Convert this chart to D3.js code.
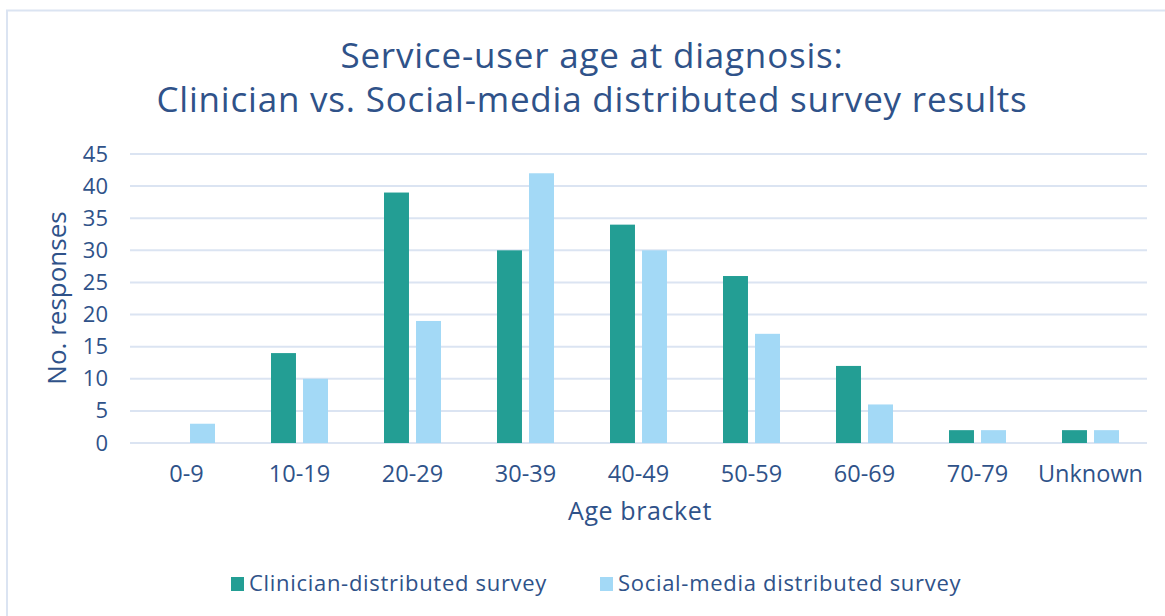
<!DOCTYPE html>
<html>
<head>
<meta charset="utf-8">
<script src="https://cdn.jsdelivr.net/npm/d3@7"></script>
<style>
  html, body { margin: 0; padding: 0; background: #fff; }
  svg { display: block; font-family: "Open Sans", "Noto Sans", sans-serif; }
</style>
</head>
<body>
<svg id="chart" width="1165" height="616"></svg>
<script>
// Age brackets and response counts for the two survey channels
const categories = ["0-9", "10-19", "20-29", "30-39", "40-49", "50-59", "60-69", "70-79", "Unknown"];
const seriesNames = ["Clinician-distributed survey", "Social-media distributed survey"];
const clinicianValues = [0, 14, 39, 30, 34, 26, 12, 2, 2];
const socialValues = [3, 10, 19, 42, 30, 17, 6, 2, 2];
const yTicks = [0, 5, 10, 15, 20, 25, 30, 35, 40, 45];
const titleLines = ["Service-user age at diagnosis:", "Clinician vs. Social-media distributed survey results"];

const colors = ["#239e94", "#a3d9f6"];
const textColor = "#2f5289";
const gridColor = "#dbe4f2";
const fontFamily = "'Open Sans', sans-serif";

const svg = d3.select("#chart");

// outer frame (runs off the right and bottom edges)
svg.append("rect")
  .attr("x", 7).attr("y", 10.5)
  .attr("width", 1200).attr("height", 700)
  .attr("fill", "none")
  .attr("stroke", gridColor)
  .attr("stroke-width", 2);

const plot = { left: 130, right: 1147, top: 154, bottom: 443 };

const x0 = d3.scaleBand().domain(categories).range([plot.left, plot.right]).paddingInner(0).paddingOuter(0);
const x1 = d3.scaleBand().domain(seriesNames).range([-28.5, 28.5]).paddingInner(0.22);
const y = d3.scaleLinear().domain([0, 45]).range([plot.bottom, plot.top]);

// gridlines
svg.append("g")
  .selectAll("line")
  .data(yTicks)
  .join("line")
  .attr("x1", plot.left).attr("x2", plot.right)
  .attr("y1", d => y(d)).attr("y2", d => y(d))
  .attr("stroke", gridColor)
  .attr("stroke-width", 2);

// y axis tick labels
const yAxis = d3.axisLeft(y).tickValues(yTicks).tickSize(0).tickPadding(0);
const yg = svg.append("g").attr("transform", "translate(108,0)").call(yAxis);
yg.select(".domain").remove();
yg.selectAll("text")
  .attr("fill", textColor)
  .style("font-size", "22px")
  .style("font-family", fontFamily);

// x axis category labels
const xAxis = d3.axisBottom(x0).tickSize(0).tickPadding(0);
const xg = svg.append("g").call(xAxis);
xg.select(".domain").remove();
xg.selectAll("text")
  .attr("fill", textColor)
  .attr("y", 482)
  .attr("dy", 0)
  .style("font-size", "23.5px")
  .style("font-family", fontFamily);

// bars
const rows = categories.map((c, i) => ({ cat: c, vals: [clinicianValues[i], socialValues[i]] }));
const groups = svg.append("g").selectAll("g")
  .data(rows)
  .join("g")
  .attr("transform", d => `translate(${x0(d.cat) + x0.bandwidth() / 2},0)`);

groups.selectAll("rect")
  .data(d => d.vals.map((v, k) => ({ name: seriesNames[k], v, k })))
  .join("rect")
  .filter(d => d.v > 0)
  .attr("x", d => x1(d.name))
  .attr("width", x1.bandwidth())
  .attr("y", d => y(d.v))
  .attr("height", d => y(0) - y(d.v))
  .attr("fill", d => colors[d.k]);

// title
svg.append("text")
  .attr("text-anchor", "middle")
  .attr("fill", textColor)
  .style("font-size", "35px")
  .style("letter-spacing", "0.8px")
  .selectAll("tspan")
  .data(titleLines)
  .join("tspan")
  .attr("x", 592)
  .attr("y", (d, i) => 68 + i * 44)
  .text(d => d);

// axis titles
svg.append("text")
  .attr("x", 640).attr("y", 520)
  .attr("text-anchor", "middle")
  .attr("fill", textColor)
  .style("font-size", "25px")
  .style("letter-spacing", "0.6px")
  .text("Age bracket");

svg.append("text")
  .attr("transform", "translate(66,298) rotate(-90)")
  .attr("text-anchor", "middle")
  .attr("fill", textColor)
  .style("font-size", "26px")
  .text("No. responses");

// legend
const legendItems = [
  { name: seriesNames[0], color: colors[0], x: 231 },
  { name: seriesNames[1], color: colors[1], x: 600 }
];
const lg = svg.append("g").selectAll("g")
  .data(legendItems)
  .join("g")
  .attr("transform", d => `translate(${d.x},0)`);
lg.append("rect")
  .attr("x", 0).attr("y", 577)
  .attr("width", 13).attr("height", 14)
  .attr("fill", d => d.color);
lg.append("text")
  .attr("x", 18).attr("y", 591)
  .attr("fill", textColor)
  .style("font-size", "22px")
  .style("letter-spacing", "0.7px")
  .text(d => d.name);
</script>
</body>
</html>
